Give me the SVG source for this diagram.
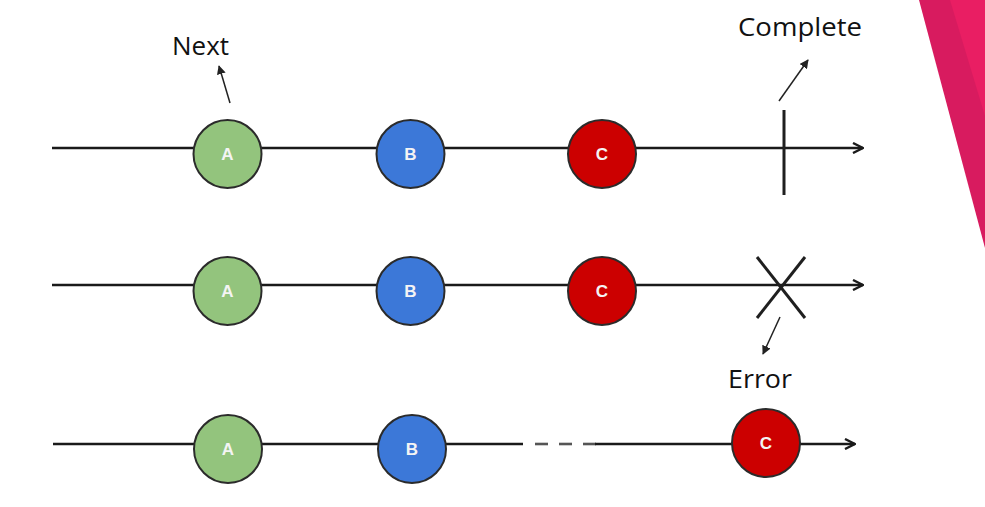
<svg xmlns="http://www.w3.org/2000/svg" width="985" height="507" viewBox="0 0 985 507">
<defs>
<style>
.ln{stroke:#1a1a1a;stroke-width:2.6;fill:none}
.dash{stroke:#555;stroke-width:2.6;fill:none}
.nd circle{stroke:#2b2b2b;stroke-width:2}
.nd text{font-family:"Liberation Sans",Arial,sans-serif;font-weight:bold;font-size:17px;fill:#f4f4f4;text-anchor:middle}
.lbl{font-family:"Open Sans","Liberation Sans",sans-serif;font-size:25px;fill:#111}
.thin{stroke:#222;stroke-width:1.5;fill:none}
.mark{stroke:#1f1f1f;stroke-width:3;fill:none}
.g{fill:#93c47d}.b{fill:#3c78d8}.r{fill:#cc0000}
</style>
<marker id="open" viewBox="0 0 12 12" refX="11" refY="6" markerWidth="12" markerHeight="12" markerUnits="userSpaceOnUse" orient="auto">
<path d="M1,1 L11,6 L1,11" fill="none" stroke="#1a1a1a" stroke-width="2.4"/>
</marker>
<marker id="tri" viewBox="0 0 10 10" refX="9" refY="5" markerWidth="9" markerHeight="9" markerUnits="userSpaceOnUse" orient="auto">
<path d="M0,0 L10,5 L0,10 Z" fill="#222"/>
</marker>
</defs>
<rect width="985" height="507" fill="#ffffff"/>
<g id="decor">
<polygon points="919,0 985,0 985,248" fill="#d81b5f"/>
<polygon points="950,0 985,0 985,116" fill="#e91e63"/>
</g>
<g id="connectors">
<line class="ln" x1="52" y1="148" x2="863" y2="148" marker-end="url(#open)"/>
<line class="ln" x1="52" y1="285" x2="863" y2="285" marker-end="url(#open)"/>
<line class="ln" x1="53" y1="444" x2="523" y2="444"/>
<line class="dash" x1="535" y1="444" x2="548" y2="444"/>
<line class="dash" x1="559" y1="444" x2="572" y2="444"/>
<line class="dash" x1="583" y1="444" x2="596" y2="444"/>
<line class="ln" x1="595" y1="444" x2="855" y2="444" marker-end="url(#open)"/>
<line class="thin" x1="230" y1="103" x2="219" y2="66" marker-end="url(#tri)"/>
<line class="thin" x1="779" y1="101" x2="808" y2="60" marker-end="url(#tri)"/>
<line class="thin" x1="780" y1="317" x2="763" y2="354" marker-end="url(#tri)"/>
</g>
<g id="complete">
<line class="mark" x1="784" y1="110" x2="784" y2="195"/>
<text class="lbl" x="738" y="36" textLength="124" lengthAdjust="spacingAndGlyphs">Complete</text>
</g>
<g id="error">
<line class="mark" x1="757" y1="257" x2="805" y2="318"/>
<line class="mark" x1="805" y1="257" x2="757" y2="318"/>
<text class="lbl" x="728" y="388" textLength="64" lengthAdjust="spacingAndGlyphs">Error</text>
</g>
<g id="next-label">
<text class="lbl" x="172" y="55" textLength="57" lengthAdjust="spacingAndGlyphs">Next</text>
</g>
<g id="r1-a" class="nd"><circle class="g" cx="227.5" cy="154" r="34"/><text x="227.5" y="160">A</text></g>
<g id="r1-b" class="nd"><circle class="b" cx="410.5" cy="154" r="34"/><text x="410.5" y="160">B</text></g>
<g id="r1-c" class="nd"><circle class="r" cx="602" cy="154" r="34"/><text x="602" y="160">C</text></g>
<g id="r2-a" class="nd"><circle class="g" cx="227.5" cy="291" r="34"/><text x="227.5" y="297">A</text></g>
<g id="r2-b" class="nd"><circle class="b" cx="410.5" cy="291" r="34"/><text x="410.5" y="297">B</text></g>
<g id="r2-c" class="nd"><circle class="r" cx="602" cy="291" r="34"/><text x="602" y="297">C</text></g>
<g id="r3-a" class="nd"><circle class="g" cx="228" cy="449" r="34"/><text x="228" y="455">A</text></g>
<g id="r3-b" class="nd"><circle class="b" cx="412" cy="449" r="34"/><text x="412" y="455">B</text></g>
<g id="r3-c" class="nd"><circle class="r" cx="766" cy="443" r="34"/><text x="766" y="449">C</text></g>
</svg>
